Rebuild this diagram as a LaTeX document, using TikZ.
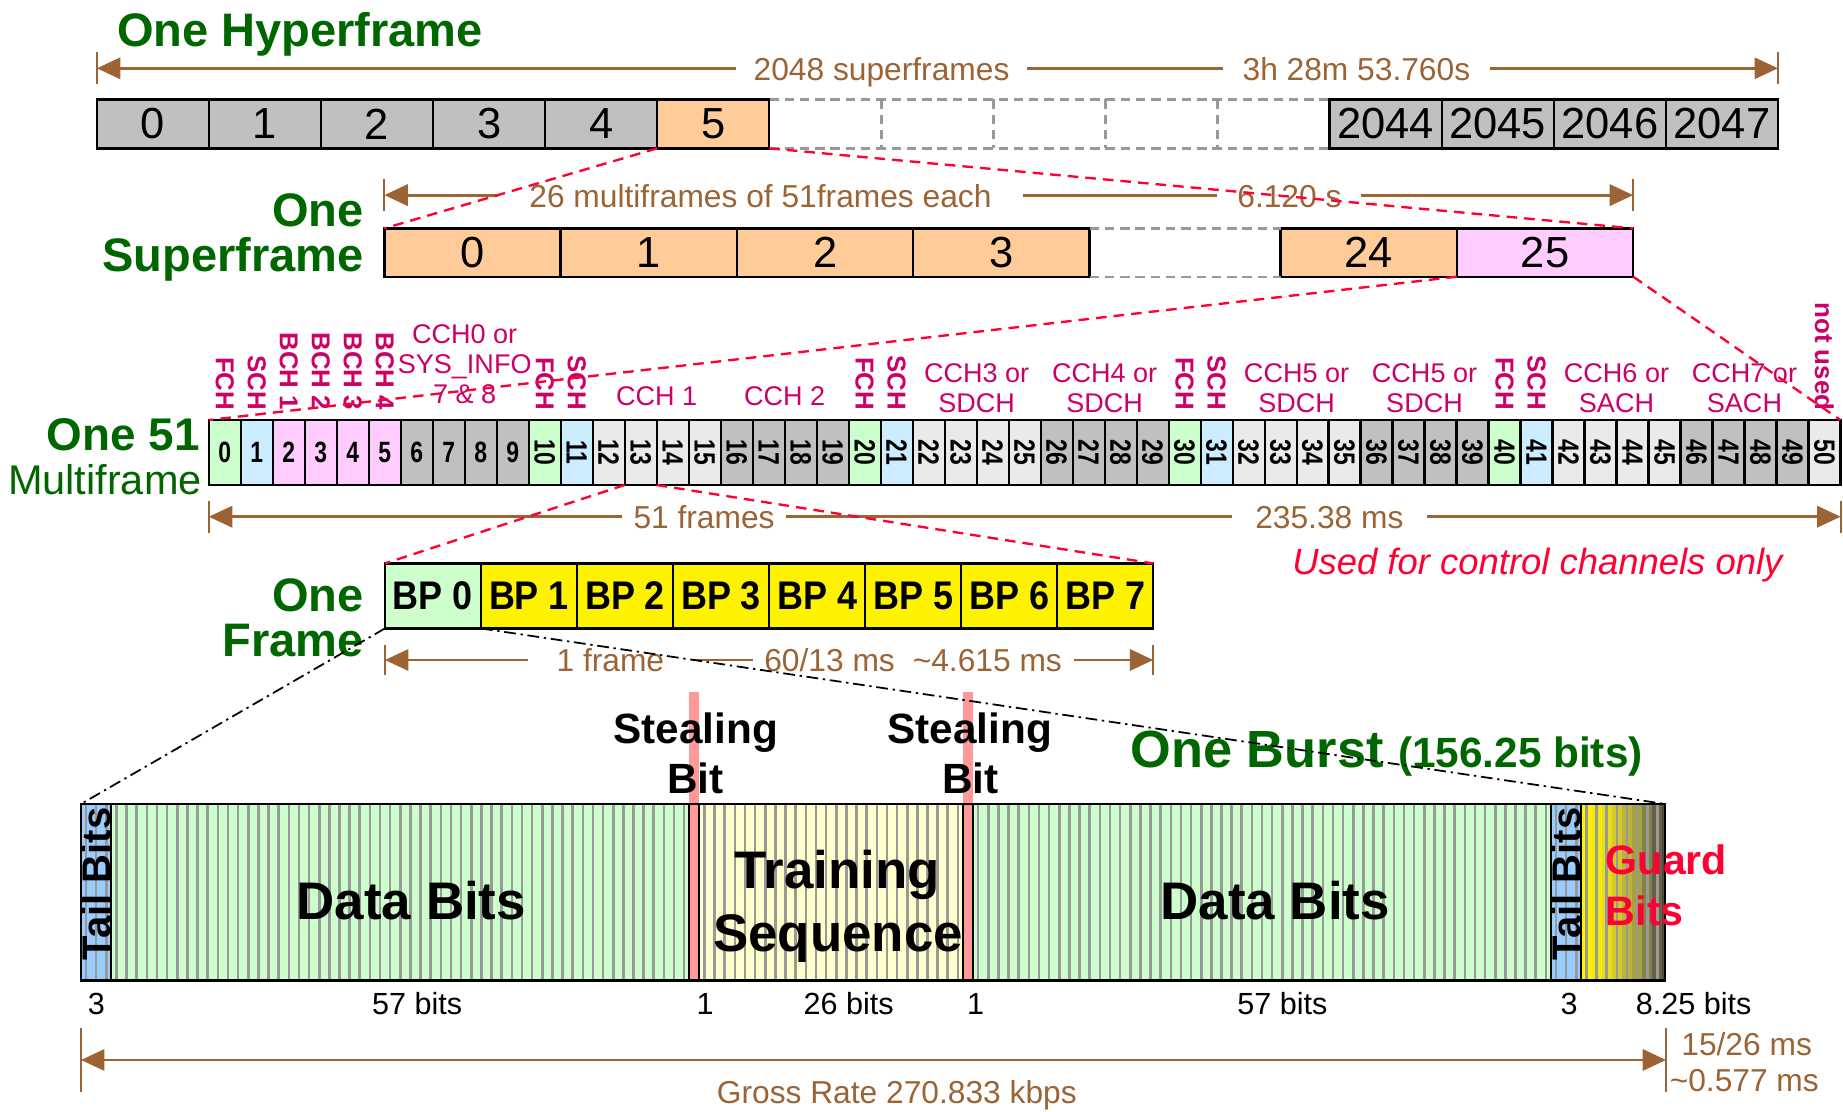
\documentclass[tikz,border=0pt]{standalone}
\usepackage{fontspec}
\setmainfont{Liberation Sans}
\newfontfamily\narrowsans{Liberation Sans}[FakeStretch=0.78]
\newfontfamily\bpsans{Liberation Sans}[FakeStretch=0.9]
\usetikzlibrary{arrows.meta}

\definecolor{hgreen}{RGB}{0,102,0}
\definecolor{brn}{RGB}{156,100,52}
\definecolor{chred}{RGB}{204,0,102}
\definecolor{alarm}{RGB}{255,0,51}
\definecolor{cellgray}{RGB}{192,192,192}
\definecolor{cellltgray}{RGB}{234,234,234}
\definecolor{cellorange}{RGB}{255,204,153}
\definecolor{cellpink}{RGB}{255,204,255}
\definecolor{cellgreen}{RGB}{204,255,204}
\definecolor{cellblue}{RGB}{204,236,255}
\definecolor{tailblue}{RGB}{153,204,255}
\definecolor{trainyellow}{RGB}{255,255,204}
\definecolor{stealpink}{RGB}{255,153,153}
\definecolor{stripegray}{RGB}{153,153,153}

\newcommand\fsz[1]{\fontsize{#1}{#1}\selectfont}

\begin{document}
\begin{tikzpicture}[x=1pt,y=-1pt,
  every node/.style={inner sep=0pt, outer sep=0pt},
  box/.style={draw=black, line width=2pt},
  hcell/.style={box, minimum width=95.35pt, minimum height=41.7pt, font=\fsz{37}},
  scell/.style={box, minimum width=150pt, minimum height=41.1pt, font=\fsz{37}},
  mcell/.style={draw=black, line width=1.8pt, minimum width=27.22pt, minimum height=55.3pt, font=\narrowsans\fsz{25}\bfseries},
  mnum/.style={rotate=-90, font=\narrowsans\fsz{25}\bfseries},
  fcell/.style={box, minimum width=81.7pt, minimum height=55.3pt, font=\bpsans\fsz{34}\bfseries},
  title/.style={text=hgreen, font=\fsz{40}\bfseries},
  dimlab/.style={text=brn, font=\fsz{27}, fill=white, anchor=base, inner xsep=#1, inner ysep=1pt},
  dimlab/.default=12pt,
  dimline/.style={draw=brn, line width=2.5pt, {Triangle[length=20pt,width=18pt]}-{Triangle[length=20pt,width=18pt]}},
  dimtick/.style={draw=brn, line width=1.5pt},
  vlab/.style={rotate=-90, anchor=east, text=chred, font=\fsz{22}\bfseries},
  hlab/.style={anchor=base, text=chred, font=\fsz{23}},
  gdash/.style={draw=stripegray, line width=2pt, dash pattern=on 8pt off 5pt},
  zoomline/.style={draw=alarm, line width=2pt, dash pattern=on 9pt off 6pt},
  burstline/.style={draw=black, line width=1.5pt, dash pattern=on 10pt off 4pt on 2pt off 4pt},
  bitlab/.style={anchor=base, font=\fsz{26}},
  bigbold/.style={anchor=base, font=\fsz{45}\bfseries},
  steal/.style={anchor=base, font=\fsz{36}\bfseries},
  guard/.style={anchor=base west, text=alarm, font=\fsz{35}\bfseries},
  tail/.style={rotate=90, font=\fsz{34}\bfseries}
]
\useasboundingbox (0,0) rectangle (1568,946);
\fill[white] (0,0) rectangle (1568,946);

% ================= hyperframe =================
\node[title, anchor=base west] (t-hyper) at (99.7,39.7) {One Hyperframe};
\coordinate (ha) at (82.4,58.1);
\coordinate (hb) at (1512.7,58.1);
\draw[dimline] (ha) -- (hb);
\draw[dimtick] ([yshift=13.5pt]ha) -- ([yshift=-13.5pt]ha);
\draw[dimtick] ([yshift=13.5pt]hb) -- ([yshift=-13.5pt]hb);
\node[dimlab=15pt] (l-hyp1) at (750,68.4) {2048 superframes};
\node[dimlab=17pt] (l-hyp2) at (1154,68.4) {3h 28m 53.760s};

% empty (omitted) superframes, dashed outline
\foreach \i in {6,...,10}
  \node[minimum width=95.35pt, minimum height=41.7pt] (h\i) at ({82.4+(\i+0.5)*95.35},105.35) {};
\draw[gdash] (h6.north west) -- (h10.north east);
\draw[gdash] (h6.south west) -- (h10.south east);
\foreach \i in {7,...,10}
  \draw[gdash] (h\i.north west) -- (h\i.south west);

\foreach \i/\c in {0/cellgray,1/cellgray,2/cellgray,3/cellgray,4/cellgray,5/cellorange}
  \node[hcell, fill=\c] (h\i) at ({82.4+(\i+0.5)*95.35},105.35) {\i};
\foreach \i/\t in {11/2044,12/2045,13/2046,14/2047}
  \node[hcell, fill=cellgray] (h\i) at ({82.4+(\i+0.5)*95.35},105.35) {\t};

% ================= superframe =================
\node[title, anchor=base east] (t-sup1) at (309.5,192.9) {One};
\node[title, anchor=base east] (t-sup2) at (309.5,231) {Superframe};
\coordinate (sa) at (327,166);
\coordinate (sb) at (1389.5,166);
\draw[dimline] (sa) -- (sb);
\draw[dimtick] ([yshift=13.5pt]sa) -- ([yshift=-13.5pt]sa);
\draw[dimtick] ([yshift=13.5pt]sb) -- ([yshift=-13.5pt]sb);
\node[dimlab=27pt] (l-sup1) at (647,176.4) {26 multiframes of 51frames each};
\node[dimlab=17pt] (l-sup2) at (1097,176.4) {6.120 s};

\foreach \i in {0,...,3}
  \node[scell, fill=cellorange] (s\i) at ({327+(\i+0.5)*150},214.85) {\i};
\node[scell, fill=cellorange] (s24) at (1164.5,214.85) {24};
\node[scell, fill=cellpink] (s25) at (1314.5,214.85) {25};
\draw[gdash] (s3.north east) -- (s24.north west);
\draw[gdash] (s3.south east) -- (s24.south west);

% ================= 51-multiframe =================
\node[title, anchor=base east, font=\fsz{39}\bfseries] (t-mf1) at (170,382.9) {One 51};
\node[title, anchor=base east, font=\fsz{35.3}] (t-mf2) at (171.6,421) {Multiframe};

\coordinate (ma) at (177.6,439.6);
\coordinate (mb) at (1566,439.6);
\draw[dimline] (ma) -- (mb);
\draw[dimtick] ([yshift=13.5pt]ma) -- ([yshift=-13.5pt]ma);
\draw[dimtick] ([yshift=13.5pt]mb) -- ([yshift=-13.5pt]mb);
\node[dimlab=10pt] (l-mf1) at (599,449.8) {51 frames};
\node[dimlab=20pt] (l-mf2) at (1131,449.8) {235.38 ms};

\foreach \i/\c in {0/cellgreen,1/cellblue,2/cellpink,3/cellpink,4/cellpink,5/cellpink,6/cellgray,7/cellgray,8/cellgray,9/cellgray}
  \node[mcell, fill=\c] (m\i) at ({177.6+(\i+0.5)*27.22},385) {\i};
\foreach \i in {10,20,30,40}
  \node[mcell, fill=cellgreen] (m\i) at ({177.6+(\i+0.5)*27.22},385) {};
\foreach \i in {11,21,31,41}
  \node[mcell, fill=cellblue] (m\i) at ({177.6+(\i+0.5)*27.22},385) {};
\foreach \i in {12,13,14,15,22,23,24,25,32,33,34,35,42,43,44,45,50}
  \node[mcell, fill=cellltgray] (m\i) at ({177.6+(\i+0.5)*27.22},385) {};
\foreach \i in {16,17,18,19,26,27,28,29,36,37,38,39,46,47,48,49}
  \node[mcell, fill=cellgray] (m\i) at ({177.6+(\i+0.5)*27.22},385) {};
\foreach \i in {10,...,50}
  \node[mnum] (mt\i) at (m\i) {\i};

% channel names above the frames
\foreach \i/\t in {0/FCH,1/SCH,2/BCH 1,3/BCH 2,4/BCH 3,5/BCH 4,10/FCH,11/SCH,20/FCH,21/SCH,30/FCH,31/SCH,40/FCH,41/SCH,50/not used}
  \node[vlab] (vl\i) at ({177.6+(\i+0.5)*27.22},349) {\t};
\node[hlab] (cc0a) at ({177.6+8*27.22},292) {CCH0 or};
\node[hlab] (cc0b) at ({177.6+8*27.22},317.6) {SYS\_INFO};
\node[hlab] (cc0c) at ({177.6+8*27.22},343) {7 \& 8};
\node[hlab] (cc1) at ({177.6+14*27.22},344.6) {CCH 1};
\node[hlab] (cc2) at ({177.6+18*27.22},344.6) {CCH 2};
\foreach \k/\a/\b in {22/CCH3 or/SDCH,26/CCH4 or/SDCH,32/CCH5 or/SDCH,36/CCH5 or/SDCH,42/CCH6 or/SACH,46/CCH7 or/SACH}{
  \node[hlab] (ga\k) at ({177.6+(\k+2)*27.22},325.6) {\a};
  \node[hlab] (gb\k) at ({177.6+(\k+2)*27.22},351) {\b};
}

\node[anchor=base, text=alarm, font=\fsz{31}\itshape] (ctl) at (1308,489) {Used for control channels only};

% ================= TDMA frame =================
\node[title, anchor=base east] (t-fr1) at (309.3,520.4) {One};
\node[title, anchor=base east] (t-fr2) at (309.3,558.7) {Frame};
\coordinate (fa) at (327.5,561.5);
\coordinate (fb) at (981.2,561.5);
\draw[dimline] (fa) -- (fb);
\draw[dimtick] ([yshift=13pt]fa) -- ([yshift=-13pt]fa);
\draw[dimtick] ([yshift=13pt]fb) -- ([yshift=-13pt]fb);
\node[dimlab=24pt] (l-fr1) at (519.3,571.3) {1 frame};
\node[dimlab=10pt] (l-fr2) at (705.8,571.3) {60/13 ms};
\node[dimlab=10pt] (l-fr3) at (840,571.3) {\textasciitilde 4.615 ms};

\node[fcell, fill=cellgreen] (f0) at ({327.5+0.5*81.7},507) {BP 0};
\foreach \i in {1,...,7}
  \node[fcell, fill=yellow] (f\i) at ({327.5+(\i+0.5)*81.7},507) {BP \i};

% ================= normal burst =================
% bit positions (8.625pt per bit, starting at 68.9)
\fill[tailblue] (68.9,684) rectangle (94.775,833.8);
\fill[cellgreen] (94.775,684) rectangle (586.4,833.8);
\fill[trainyellow] (595.025,684) rectangle (819.275,833.8);
\fill[cellgreen] (827.9,684) rectangle (1319.525,833.8);
\fill[tailblue] (1319.525,684) rectangle (1345.4,833.8);
% guard period: yellow fading to black
\foreach \k/\p in {0/100,1/95,2/90,3/80,4/70,5/60,6/45,7/30,8/20}{
  \pgfmathsetmacro\xr{min(1345.4+(\k+1)*8.625,1416.556)}
  \fill[yellow!\p!black] ({1345.4+\k*8.625},684) rectangle (\xr,833.8);
}
\foreach \k in {0,...,155}{
  \ifnum\k=60\relax\else\ifnum\k=87\relax\else
    \draw[stripegray, line width=2.2pt] ({68.9+(\k+0.5)*8.625},684) -- ({68.9+(\k+0.5)*8.625},833.8);
  \fi\fi
}
\fill[stealpink] (586.4,588.5) rectangle (595.025,833.8);
\fill[stealpink] (819.275,588.5) rectangle (827.9,833.8);
\foreach \x in {94.775,586.4,595.025,819.275,827.9,1319.525,1345.4}
  \draw[black, line width=1.6pt] (\x,684) -- (\x,833.8);
\node[draw=black, line width=2.5pt, minimum width=1347.656pt, minimum height=149.8pt] (burst) at (742.728,758.9) {};

\node[tail] (tb1) at (81.84,752) {Tail Bits};
\node[tail] (tb2) at (1332.46,752) {Tail Bits};
\node[bigbold] (db1) at (350,782.7) {Data Bits};
\node[bigbold] (db2) at (1085,782.7) {Data Bits};
\node[bigbold] (ts1) at (712,755.8) {Training};
\node[bigbold] (ts2) at (713,809.7) {Sequence};
\node[guard] (gd1) at (1366.3,744.4) {Guard};
\node[guard] (gd2) at (1366.3,787) {Bits};
\node[steal] (sb1a) at (592,632.4) {Stealing};
\node[steal] (sb1b) at (591.5,675) {Bit};
\node[steal] (sb2a) at (825,632.4) {Stealing};
\node[steal] (sb2b) at (825.5,675) {Bit};

\node[anchor=base west, text=hgreen] (t-burst) at (962,653)
  {\fsz{44.5}\bfseries One Burst \fsz{36}(156.25 bits)};

% bit counts
\node[bitlab] (n1) at (82,863.5) {3};
\node[bitlab] (n2) at (355,863.5) {57 bits};
\node[bitlab] (n3) at (600,863.5) {1};
\node[bitlab] (n4) at (722,863.5) {26 bits};
\node[bitlab] (n5) at (830,863.5) {1};
\node[bitlab] (n6) at (1091,863.5) {57 bits};
\node[bitlab] (n7) at (1335,863.5) {3};
\node[bitlab] (n8) at (1441,863.5) {8.25 bits};

\coordinate (ba) at (68.9,901.8);
\coordinate (bb) at (1417.5,901.8);
\draw[dimline] (ba) -- (bb);
\draw[dimtick] ([yshift=27pt]ba) -- ([yshift=-27pt]ba);
\draw[dimtick] ([yshift=27pt]bb) -- ([yshift=-27pt]bb);
\node[anchor=base, text=brn, font=\fsz{27}] (gross) at (763,938.7) {Gross Rate 270.833 kbps};
\node[anchor=base, text=brn, font=\fsz{27}] (bt1) at (1486,897.6) {15/26 ms};
\node[anchor=base, text=brn, font=\fsz{27}] (bt2) at (1484,928.8) {\textasciitilde 0.577 ms};

% ================= zoom connectors =================
\draw[zoomline] (h5.south west) -- (s0.north west);
\draw[zoomline] (h5.south east) -- (s25.north east);
\draw[zoomline] (s25.south west) -- (m0.north west);
\draw[zoomline] (s25.south east) -- (m50.north east);
\draw[zoomline] (m13.south west) -- (f0.north west);
\draw[zoomline] (m13.south east) -- (f7.north east);
\draw[burstline] (f0.south west) -- (burst.north west);
\draw[burstline] (f0.south east) -- (burst.north east);
\end{tikzpicture}
\end{document}
